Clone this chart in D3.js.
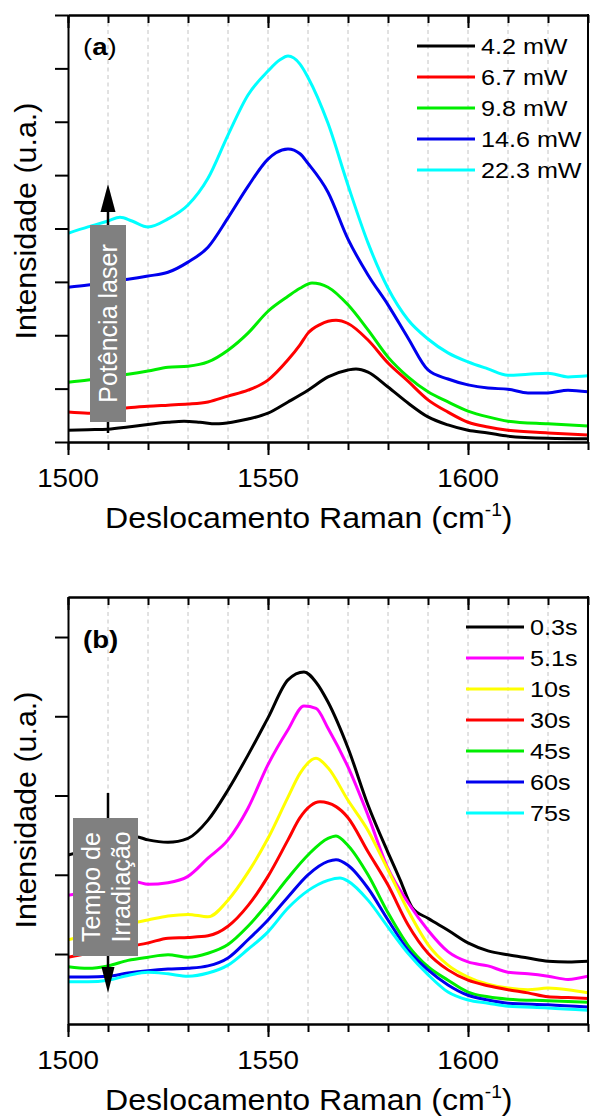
<!DOCTYPE html>
<html>
<head>
<meta charset="utf-8">
<script src="https://cdn.jsdelivr.net/npm/d3@7"></script>
<style>
  body { margin: 0; background: #fff; }
  svg { display: block; }
</style>
</head>
<body>
<svg id="chart" width="590" height="1120"></svg>
<script>
// ---- data: Raman shift (cm-1), intensity (arb. units) ----
var powerLabels = ['4.2 mW', '6.7 mW', '9.8 mW', '14.6 mW', '22.3 mW'];
var powerColors = ['#000000', '#ff0000', '#00ee00', '#0000ee', '#00ffff'];

var p42 = [[1500,22],[1505,23],[1510,24],[1515,28],[1520,33],[1525,37],[1529,39],[1533,37],[1537,34],[1541,37],[1545,43],[1550,54],[1555,75],[1560,97],[1565,122],[1570,135],[1572,137],[1575,131],[1580,103],[1585,73],[1590,47],[1595,32],[1600,22],[1605,17],[1610,11],[1620,7],[1630,6]];
var p67 = [[1500,56],[1505,54],[1510,58],[1515,64],[1520,67],[1525,69],[1530,71],[1535,75],[1540,86],[1545,97],[1550,116],[1555,154],[1558,182],[1560,204],[1563,220],[1567,228],[1570,222],[1575,191],[1580,148],[1585,114],[1590,79],[1595,56],[1600,37],[1605,28],[1610,22],[1620,17],[1630,13]];
var p98 = [[1500,112],[1505,116],[1510,122],[1515,127],[1520,133],[1525,140],[1530,142],[1535,150],[1540,172],[1545,204],[1550,245],[1555,273],[1558,288],[1561,298],[1565,290],[1570,257],[1575,210],[1580,159],[1585,122],[1590,94],[1595,75],[1600,58],[1605,47],[1610,39],[1620,34],[1630,30]];
var p146 = [[1500,290],[1505,294],[1510,300],[1515,305],[1520,311],[1525,318],[1530,337],[1535,365],[1540,420],[1545,479],[1550,530],[1552,542],[1555,549],[1558,540],[1560,522],[1565,468],[1570,380],[1575,313],[1580,257],[1585,195],[1590,135],[1595,118],[1600,107],[1605,101],[1610,99],[1615,92],[1620,92],[1625,97],[1630,94]];
var p223 = [[1500,391],[1505,403],[1510,414],[1513,421],[1516,414],[1520,403],[1525,418],[1530,444],[1535,494],[1540,575],[1545,650],[1550,695],[1553,716],[1555,723],[1558,708],[1560,683],[1565,597],[1570,481],[1575,373],[1580,288],[1585,229],[1590,193],[1595,167],[1600,150],[1605,137],[1610,125],[1615,127],[1620,129],[1625,122],[1630,124]];

var timeLabels = ['0.3s', '5.1s', '10s', '30s', '45s', '60s', '75s'];
var timeColors = ['#000000', '#ff00ff', '#ffff00', '#ff0000', '#00ee00', '#0000ee', '#00ffff'];

var t03 = [[1500,225],[1510,238],[1517,248],[1520,244],[1525,241],[1530,246],[1535,269],[1540,307],[1545,351],[1550,398],[1555,446],[1559,456],[1562,443],[1565,418],[1570,360],[1575,288],[1580,228],[1583,194],[1586,159],[1590,145],[1595,130],[1600,114],[1605,104],[1610,99],[1615,95],[1620,91],[1625,90],[1630,91]];
var t51 = [[1500,174],[1510,183],[1517,191],[1520,188],[1525,190],[1530,198],[1535,221],[1540,244],[1545,284],[1550,339],[1555,383],[1559,413],[1562,410],[1565,385],[1570,336],[1575,275],[1580,208],[1585,165],[1590,130],[1595,103],[1600,90],[1605,85],[1610,77],[1615,75],[1620,72],[1625,68],[1630,72]];
var t10 = [[1500,118],[1510,130],[1517,140],[1520,143],[1525,148],[1530,150],[1535,147],[1540,168],[1545,203],[1550,246],[1555,298],[1558,328],[1562,347],[1565,335],[1570,294],[1575,256],[1580,206],[1585,155],[1590,112],[1595,86],[1600,71],[1605,62],[1610,57],[1615,55],[1620,57],[1625,55],[1630,51]];
var t30 = [[1500,96],[1505,101],[1510,108],[1517,111],[1520,114],[1525,120],[1530,121],[1535,123],[1540,135],[1545,161],[1550,198],[1555,244],[1558,272],[1563,292],[1567,286],[1570,272],[1575,229],[1580,187],[1585,137],[1590,101],[1595,80],[1600,67],[1605,60],[1610,55],[1615,51],[1620,46],[1625,45],[1630,44]];
var t45 = [[1500,84],[1505,82],[1510,85],[1515,92],[1520,96],[1525,99],[1530,96],[1535,101],[1540,112],[1545,135],[1550,164],[1555,196],[1560,225],[1565,246],[1567,249],[1570,237],[1575,200],[1580,152],[1585,111],[1590,84],[1595,67],[1600,52],[1605,46],[1610,43],[1620,41],[1630,39]];
var t60 = [[1500,71],[1505,71],[1510,72],[1515,76],[1520,79],[1525,81],[1530,82],[1535,85],[1540,95],[1545,118],[1550,143],[1555,172],[1560,200],[1565,217],[1567,219],[1570,212],[1575,183],[1580,143],[1585,105],[1590,80],[1595,61],[1600,48],[1605,42],[1610,38],[1620,36],[1630,33]];
var t75 = [[1500,65],[1505,65],[1510,67],[1515,73],[1520,77],[1525,75],[1530,72],[1535,76],[1540,86],[1545,106],[1550,128],[1555,158],[1560,180],[1565,193],[1568,196],[1570,192],[1575,168],[1580,134],[1585,101],[1590,74],[1595,52],[1600,42],[1605,38],[1610,34],[1620,32],[1630,29]];

var xTickMinor = d3.range(1500, 1631, 10);
var xTickMajor = [1500, 1550, 1600];
var xGrid = d3.range(1510, 1621, 10);

var FONT = '"Liberation Sans", Arial, Helvetica, sans-serif';
var svg = d3.select('#chart');

// text with a slight horizontal stretch, like the original figure font
function label(g, x, y, s, size, opt) {
  opt = opt || {};
  var t = g.append('text')
    .attr('transform', 'translate(' + x + ',' + y + ')' + (opt.rotate ? ' rotate(' + opt.rotate + ')' : '') +
      ' scale(' + (opt.sx || 1) + ',1)')
    .attr('font-family', FONT)
    .attr('font-size', size)
    .attr('text-anchor', opt.anchor || 'start')
    .attr('fill', opt.fill || '#000')
    .attr('font-weight', opt.bold ? 'bold' : 'normal');
  if (s != null) t.text(s);
  return t;
}

function panel(cfg) {
  var left = 68, right = 588;
  var x = d3.scaleLinear().domain([1500, 1630]).range([left, right]);
  var y = d3.scaleLinear().domain(cfg.yDomain).range([cfg.bottom, cfg.top]);
  var g = svg.append('g').attr('class', 'panel');

  // dashed grid
  g.selectAll('.grid').data(xGrid).enter().append('line')
    .attr('x1', function(d){ return x(d); }).attr('x2', function(d){ return x(d); })
    .attr('y1', cfg.top).attr('y2', cfg.bottom)
    .attr('stroke', '#c4c4c4').attr('stroke-width', 1).attr('stroke-dasharray', '4,3.5');

  // curves
  var clipId = 'clip' + cfg.id;
  svg.append('clipPath').attr('id', clipId).append('rect')
    .attr('x', left).attr('y', cfg.top).attr('width', right - left).attr('height', cfg.bottom - cfg.top);
  var line = d3.line().x(function(d){ return x(d[0]); }).y(function(d){ return y(d[1]); })
    .curve(d3.curveMonotoneX);
  g.append('g').attr('clip-path', 'url(#' + clipId + ')')
    .selectAll('path').data(cfg.series).enter().append('path')
    .attr('d', line).attr('fill', 'none')
    .attr('stroke', function(d, i){ return cfg.colors[i]; })
    .attr('stroke-width', 3).attr('stroke-linejoin', 'round');

  // axes
  function styleAxis(sel) {
    sel.selectAll('path').attr('stroke', '#000').attr('stroke-width', 2);
    sel.selectAll('line').attr('stroke', '#000').attr('stroke-width', 2);
    sel.selectAll('text').remove();
  }
  g.append('g').attr('transform', 'translate(0,' + cfg.bottom + ')')
    .call(d3.axisBottom(x).tickValues(xTickMinor).tickSize(8).tickSizeOuter(0)).call(styleAxis);
  g.append('g').attr('transform', 'translate(0,' + cfg.bottom + ')')
    .call(d3.axisBottom(x).tickValues(xTickMajor).tickSize(13).tickSizeOuter(0)).call(styleAxis);
  g.append('g').attr('transform', 'translate(0,' + cfg.top + ')')
    .call(d3.axisBottom(x).tickValues(xTickMinor).tickSize(8).tickSizeOuter(0)).call(styleAxis);
  g.append('g').attr('transform', 'translate(0,' + cfg.top + ')')
    .call(d3.axisBottom(x).tickValues(xTickMajor).tickSize(13).tickSizeOuter(0)).call(styleAxis);
  g.append('g').attr('transform', 'translate(' + left + ',0)')
    .call(d3.axisLeft(y).tickValues(cfg.yTicks).tickSize(13).tickSizeOuter(0)).call(styleAxis);
  g.append('line').attr('x1', right).attr('x2', right).attr('y1', cfg.top - 1).attr('y2', cfg.bottom + 1)
    .attr('stroke', '#000').attr('stroke-width', 2);

  // tick labels
  xTickMajor.forEach(function(v){
    label(g, x(v), cfg.bottom + 45, String(v), 25, {anchor: 'middle', sx: 1.11});
  });

  // axis titles
  var xt = label(g, 105, cfg.bottom + 86, null, 30, {sx: 1.07});
  xt.append('tspan').text('Deslocamento Raman (cm');
  xt.append('tspan').attr('font-size', 18).attr('dy', -12).text('-1');
  xt.append('tspan').attr('dy', 12).text(')');
  label(g, 36, cfg.yTitleY, 'Intensidade (u.a.)', 29, {anchor: 'middle', rotate: -90, sx: 1.05});

  // panel letter
  var pl = label(g, 83, cfg.top + cfg.letterDy, null, 23, {sx: 1.2, bold: cfg.letterBold});
  pl.append('tspan').text('(');
  pl.append('tspan').attr('font-weight', 'bold').text(cfg.letter);
  pl.append('tspan').text(')');

  // legend
  var lg = g.append('g');
  cfg.labels.forEach(function(s, i){
    var ry = cfg.legendY + i * 31;
    lg.append('line').attr('x1', cfg.legendX).attr('x2', cfg.legendX + 58)
      .attr('y1', ry).attr('y2', ry).attr('stroke', cfg.colors[i]).attr('stroke-width', 3);
    label(lg, cfg.legendX + 64, ry + 8, s, 21.5, {sx: 1.17});
  });

  // arrow + grey tag
  var ax = x(1510), a = cfg.arrow;
  g.append('line').attr('x1', ax).attr('x2', ax).attr('y1', a.from).attr('y2', a.headBase)
    .attr('stroke', '#000').attr('stroke-width', 2.5);
  g.append('polygon')
    .attr('points', [[ax, a.tip], [ax - a.half, a.headBase], [ax + a.half, a.headBase]].join(' '))
    .attr('fill', '#000');
  g.append('rect').attr('x', a.box[0]).attr('y', a.box[1]).attr('width', a.box[2]).attr('height', a.box[3])
    .attr('fill', '#808080');
  a.text.forEach(function(s, i){
    label(g, a.textX + i * 30, a.box[1] + a.box[3] / 2, s, 25, {anchor: 'middle', rotate: -90, fill: '#fff'});
  });
}

panel({
  id: 'a', top: 15, bottom: 442, yDomain: [0, 800], yTicks: d3.range(0, 801, 100),
  series: [p42, p67, p98, p146, p223], colors: powerColors, labels: powerLabels,
  legendX: 417, legendY: 46, yTitleY: 221, letter: 'a', letterBold: false, letterDy: 40,
  arrow: {from: 433, tip: 184, headBase: 212, half: 7.5, box: [90, 225, 36, 197], textX: 117, text: ['Potência laser']}
});

panel({
  id: 'b', top: 597, bottom: 1024, yDomain: [11.7, 550.5], yTicks: [100, 200, 300, 400, 500],
  series: [t03, t51, t10, t30, t45, t60, t75], colors: timeColors, labels: timeLabels,
  legendX: 466, legendY: 627, yTitleY: 810, letter: 'b', letterBold: true, letterDy: 51,
  arrow: {from: 793, tip: 993, headBase: 967, half: 6.5, box: [73, 818, 65, 138], textX: 100, text: ['Tempo de', 'Irradiação']}
});
</script>
</body>
</html>
